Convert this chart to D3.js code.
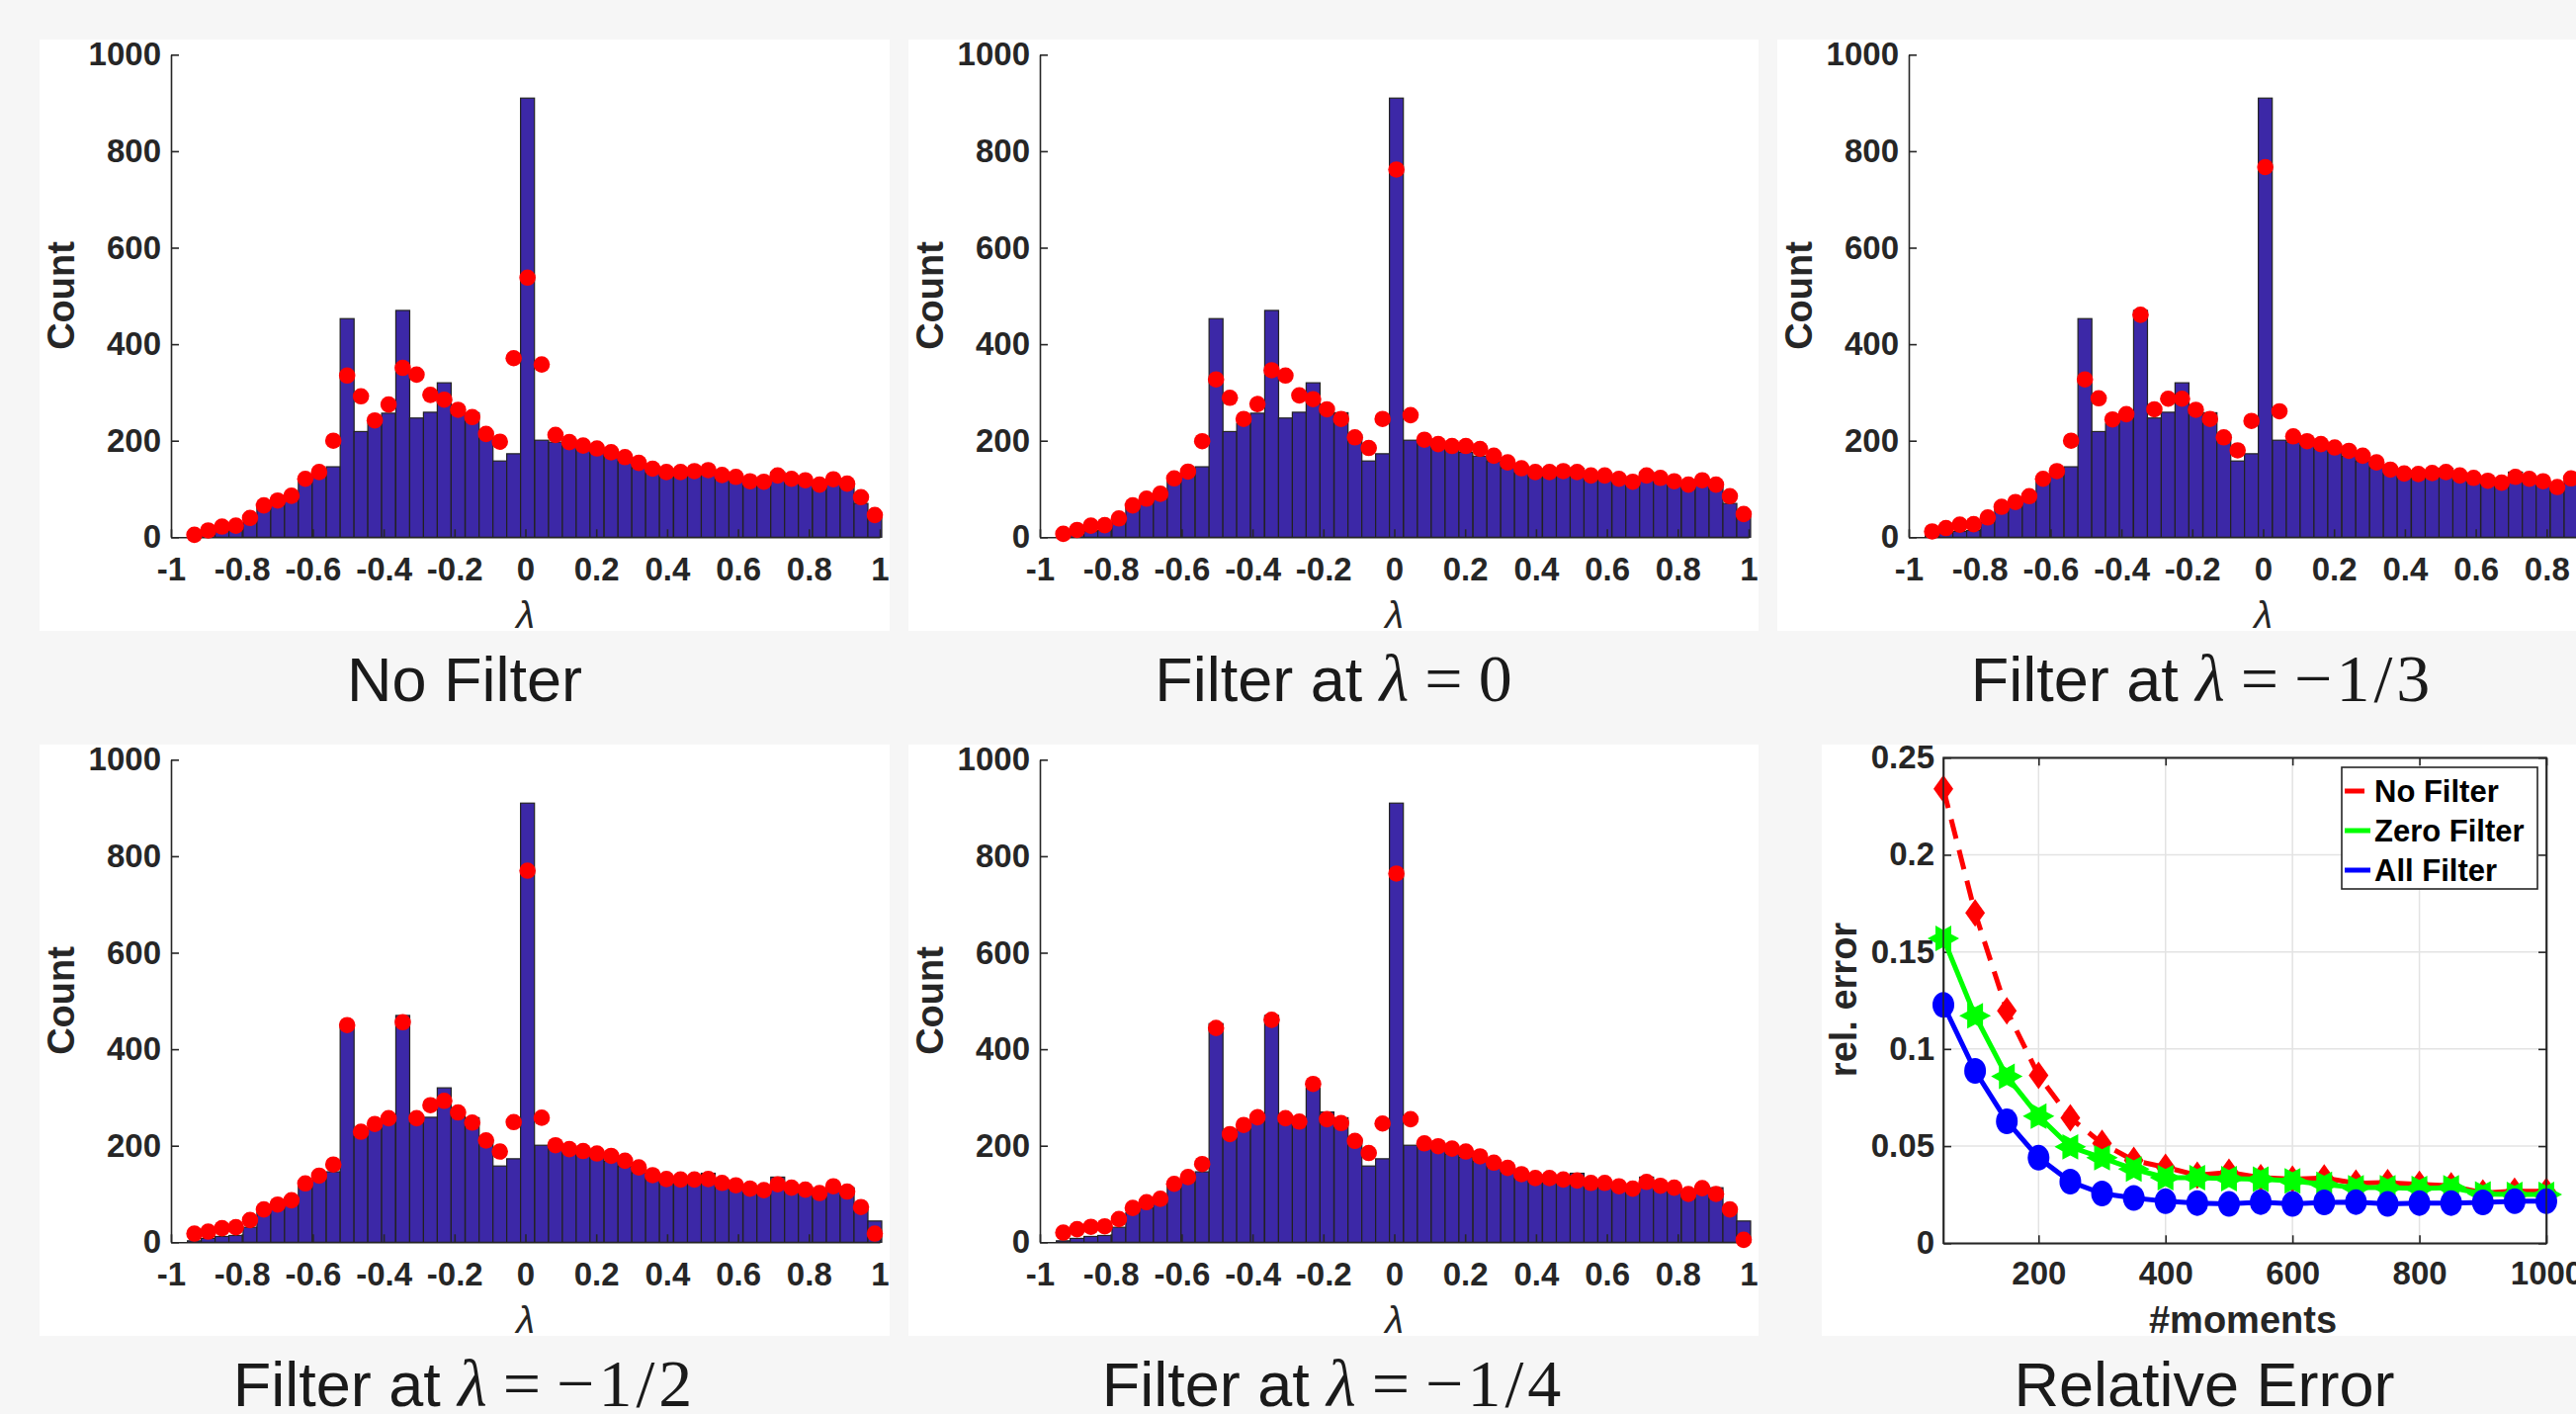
<!DOCTYPE html>
<html>
<head>
<meta charset="utf-8">
<script src="https://cdn.jsdelivr.net/npm/d3@7"></script>
<style>
  html, body { margin: 0; padding: 0; background: #f6f6f6; }
  svg { display: block; }
  text { font-family: "Liberation Sans", Arial, sans-serif; }
</style>
</head>
<body>
<svg id="chart" width="2606" height="1430"></svg>
<script>
// ---------------- DATA ----------------
const binWidth = 0.0392;
const binCenters = [-0.934, -0.895, -0.856, -0.817, -0.777, -0.738, -0.699, -0.660, -0.621, -0.582,
  -0.542, -0.503, -0.464, -0.425, -0.386, -0.346, -0.307, -0.268, -0.229, -0.190,
  -0.150, -0.111, -0.072, -0.033, 0.006, 0.046, 0.085, 0.124, 0.163, 0.202,
  0.242, 0.281, 0.320, 0.359, 0.398, 0.438, 0.477, 0.516, 0.555, 0.594,
  0.634, 0.673, 0.712, 0.751, 0.790, 0.830, 0.869, 0.908, 0.947, 0.986];
const histCounts = [3, 8, 12, 14, 31, 61, 71, 82, 117, 129,
  146, 453, 219, 236, 257, 470, 247, 259, 320, 270,
  258, 212, 158, 173, 910, 201, 197, 190, 183, 176,
  168, 157, 144, 133, 127, 128, 133, 143, 124, 119,
  112, 110, 135, 118, 114, 104, 116, 113, 70, 44];
const dotsNoFilter = [5, 14, 22, 24, 40, 66, 76, 86, 121, 135,
  200, 335, 292, 242, 275, 351, 337, 295, 285, 264,
  249, 214, 198, 371, 538, 358, 212, 197, 190, 184,
  176, 166, 154, 142, 135, 135, 137, 139, 129, 125,
  116, 115, 128, 121, 118, 109, 120, 111, 83, 46];
const dotsFilterZero = [7, 15, 24, 25, 39, 66, 80, 90, 122, 136,
  199, 327, 289, 245, 276, 346, 335, 294, 286, 265,
  245, 207, 185, 245, 762, 253, 202, 193, 189, 189,
  183, 169, 155, 143, 135, 135, 137, 135, 128, 128,
  121, 115, 128, 123, 116, 109, 118, 109, 85, 48];
const dotsFilterThird = [12, 19, 26, 27, 41, 63, 73, 85, 121, 137,
  200, 327, 288, 244, 255, 461, 265, 287, 287, 264,
  245, 207, 180, 241, 767, 261, 209, 199, 193, 186,
  179, 169, 155, 140, 132, 131, 133, 135, 128, 123,
  117, 113, 125, 121, 116, 104, 122, 110, 82, 45];
const dotsFilterHalf = [18, 22, 29, 31, 46, 68, 78, 87, 122, 138,
  161, 450, 229, 245, 257, 456, 257, 284, 293, 269,
  248, 211, 188, 249, 770, 258, 201, 193, 189, 184,
  179, 169, 155, 139, 131, 130, 130, 131, 123, 118,
  111, 108, 120, 113, 109, 102, 116, 105, 73, 18];
const dotsFilterQuarter = [20, 27, 32, 33, 48, 71, 83, 90, 121, 135,
  162, 444, 224, 243, 259, 461, 257, 250, 328, 255,
  247, 210, 185, 246, 764, 255, 205, 199, 194, 188,
  178, 165, 154, 141, 133, 133, 130, 128, 123, 123,
  116, 111, 125, 117, 113, 100, 112, 100, 68, 5];

const histXTicks = [-1, -0.8, -0.6, -0.4, -0.2, 0, 0.2, 0.4, 0.6, 0.8, 1];
const histXTickLabels = ["-1", "-0.8", "-0.6", "-0.4", "-0.2", "0", "0.2", "0.4", "0.6", "0.8", "1"];
const histYTicks = [0, 200, 400, 600, 800, 1000];

const moments = [50, 100, 150, 200, 250, 300, 350, 400, 450, 500,
  550, 600, 650, 700, 750, 800, 850, 900, 950, 1000];
const relErrNoFilter = [0.2340, 0.1701, 0.1197, 0.0864, 0.0645, 0.0514, 0.0426, 0.0391, 0.0350, 0.0365,
  0.0338, 0.0330, 0.0336, 0.0309, 0.0312, 0.0303, 0.0295, 0.0259, 0.0268, 0.0268];
const relErrZeroFilter = [0.1569, 0.1171, 0.0859, 0.0654, 0.0496, 0.0440, 0.0382, 0.0338, 0.0338, 0.0333,
  0.0330, 0.0321, 0.0303, 0.0286, 0.0286, 0.0282, 0.0286, 0.0254, 0.0251, 0.0251];
const relErrAllFilter = [0.1227, 0.0887, 0.0628, 0.0440, 0.0317, 0.0256, 0.0233, 0.0216, 0.0207, 0.0202,
  0.0212, 0.0202, 0.0210, 0.0212, 0.0202, 0.0207, 0.0207, 0.0210, 0.0216, 0.0216];
const errXTicks = [200, 400, 600, 800, 1000];
const errYTicks = [0, 0.05, 0.1, 0.15, 0.2, 0.25];
const errYTickLabels = ["0", "0.05", "0.1", "0.15", "0.2", "0.25"];
const legendLabels = ["No Filter", "Zero Filter", "All Filter"];

// ---------------- DRAWING ----------------
const svg = d3.select("#chart");
const AX = "#262626";
const SERIF = "'Liberation Serif', 'DejaVu Serif', serif";
svg.append("rect").attr("width", 2606).attr("height", 1430).attr("fill", "#f6f6f6");

const panels = [
  {dx: 0,    dy: 0,   dots: dotsNoFilter,     title: null,   plain: "No Filter"},
  {dx: 879,  dy: 0,   dots: dotsFilterZero,   title: "0"},
  {dx: 1758, dy: 0,   dots: dotsFilterThird,  title: "\u22121/3"},
  {dx: 0,    dy: 713, dots: dotsFilterHalf,   title: "\u22121/2"},
  {dx: 879,  dy: 713, dots: dotsFilterQuarter,title: "\u22121/4"}
];

function styleAxis(g, size) {
  g.selectAll("path.domain").attr("stroke", AX).attr("stroke-width", 1.6);
  g.selectAll(".tick line").attr("stroke", AX).attr("stroke-width", 1.6);
  g.selectAll(".tick text").attr("fill", AX).attr("font-size", size).attr("font-weight", "bold")
    .attr("font-family", "'Liberation Sans', Arial, sans-serif");
}

function drawTitle(cx, by, p) {
  const t = svg.append("text").attr("x", cx).attr("y", by).attr("text-anchor", "middle")
    .attr("fill", "#1a1a1a").attr("font-size", 63);
  if (p.plain) { t.text(p.plain); return; }
  t.append("tspan").text("Filter at ");
  t.append("tspan").attr("font-family", SERIF).attr("font-style", "italic").attr("font-size", 68)
    .text("\u03bb");
  t.append("tspan").attr("font-family", SERIF).attr("font-size", 68).attr("dx", 16).text("=");
  t.append("tspan").attr("font-family", SERIF).attr("font-size", 68).attr("dx", 16)
    .attr("letter-spacing", p.title.length > 1 ? 4 : 0).text(p.title);
}

panels.forEach(p => {
  const g = svg.append("g");
  g.append("rect").attr("x", 40 + p.dx).attr("y", 40 + p.dy).attr("width", 860).attr("height", 598)
    .attr("fill", "#ffffff");
  const x = d3.scaleLinear().domain([-1, 1]).range([173 + p.dx, 890 + p.dx]);
  const y = d3.scaleLinear().domain([0, 1000]).range([543.3 + p.dy, 55.3 + p.dy]);

  g.selectAll("rect.bar").data(histCounts).join("rect").attr("class", "bar")
    .attr("x", (d, i) => x(binCenters[i] - binWidth / 2))
    .attr("width", (d, i) => x(binCenters[i] + binWidth / 2) - x(binCenters[i] - binWidth / 2))
    .attr("y", d => y(d))
    .attr("height", d => y(0) - y(d))
    .attr("fill", "#3c28a7").attr("stroke", "#222222").attr("stroke-width", 1.2);

  const gy = g.append("g").attr("transform", `translate(${173 + p.dx},0)`)
    .call(d3.axisLeft(y).tickValues(histYTicks).tickFormat(d3.format("d")).tickSizeInner(-8).tickSizeOuter(0).tickPadding(10));
  styleAxis(gy, 33);
  const gx = g.append("g").attr("transform", `translate(0,${543.3 + p.dy})`)
    .call(d3.axisBottom(x).tickValues(histXTicks).tickFormat((d, i) => histXTickLabels[i]).tickSizeInner(-8).tickSizeOuter(0).tickPadding(20));
  styleAxis(gx, 33);

  g.selectAll("circle.dot").data(p.dots).join("circle").attr("class", "dot")
    .attr("cx", (d, i) => x(binCenters[i])).attr("cy", d => y(d)).attr("r", 8.3)
    .attr("fill", "#ff0000");

  g.append("text").attr("transform", `translate(${75 + p.dx},${299 + p.dy}) rotate(-90)`)
    .attr("text-anchor", "middle").attr("font-size", 38).attr("font-weight", "bold").attr("fill", AX)
    .text("Count");
  g.append("text").attr("x", 531.5 + p.dx).attr("y", 635 + p.dy).attr("text-anchor", "middle")
    .attr("font-family", SERIF).attr("font-style", "italic")
    .attr("font-size", 38).attr("fill", AX).text("\u03bb");

  drawTitle(470 + p.dx, 709 + p.dy, p);
});

// ---------------- RELATIVE ERROR PANEL ----------------
(function () {
  const g = svg.append("g");
  g.append("rect").attr("x", 1843).attr("y", 753).attr("width", 800).attr("height", 598).attr("fill", "#ffffff");
  const x = d3.scaleLinear().domain([50, 1000]).range([1966, 2576]);
  const y = d3.scaleLinear().domain([0, 0.25]).range([1257.3, 766.2]);
  const L = 1966, R = 2576, T = 766.2, B = 1257.3;

  // grid
  g.selectAll("line.gx").data(errXTicks).join("line")
    .attr("x1", d => x(d)).attr("x2", d => x(d)).attr("y1", T).attr("y2", B)
    .attr("stroke", "#e3e3e3").attr("stroke-width", 1.5);
  g.selectAll("line.gy").data(errYTicks).join("line")
    .attr("x1", L).attr("x2", R).attr("y1", d => y(d)).attr("y2", d => y(d))
    .attr("stroke", "#e3e3e3").attr("stroke-width", 1.5);

  // axes
  const gyl = g.append("g").attr("transform", `translate(${L},0)`)
    .call(d3.axisLeft(y).tickValues(errYTicks).tickFormat((d, i) => errYTickLabels[i]).tickSizeInner(-8).tickSizeOuter(0).tickPadding(9));
  styleAxis(gyl, 33);
  const gyr = g.append("g").attr("transform", `translate(${R},0)`)
    .call(d3.axisRight(y).tickValues(errYTicks).tickFormat("").tickSizeInner(-8).tickSizeOuter(0));
  styleAxis(gyr, 33);
  const gxb = g.append("g").attr("transform", `translate(0,${B})`)
    .call(d3.axisBottom(x).tickValues(errXTicks).tickFormat(d3.format("d")).tickSizeInner(-8).tickSizeOuter(0).tickPadding(18));
  styleAxis(gxb, 33);
  const gxt = g.append("g").attr("transform", `translate(0,${T})`)
    .call(d3.axisTop(x).tickValues(errXTicks).tickFormat("").tickSizeInner(-8).tickSizeOuter(0));
  styleAxis(gxt, 33);

  const line = d3.line().x((d, i) => x(moments[i])).y(d => y(d));

  // No Filter: red dashed + diamonds
  g.append("path").datum(relErrNoFilter).attr("d", line).attr("fill", "none")
    .attr("stroke", "#ff0000").attr("stroke-width", 5).attr("stroke-dasharray", "20,12");
  g.selectAll("path.dia").data(relErrNoFilter).join("path")
    .attr("d", (d, i) => {
      const cx = x(moments[i]), cy = y(d);
      return `M${cx},${cy - 14}L${cx + 10},${cy}L${cx},${cy + 14}L${cx - 10},${cy}Z`;
    }).attr("fill", "#ff0000");

  // Zero Filter: green + hexagrams
  g.append("path").datum(relErrZeroFilter).attr("d", line).attr("fill", "none")
    .attr("stroke", "#00ff00").attr("stroke-width", 5);
  function hexagram(cx, cy, rx, ry) {
    const pts = [];
    for (let k = 0; k < 12; k++) {
      const a = k * Math.PI / 6;
      const f = (k % 2 === 0) ? 1 : 1 / Math.sqrt(3);
      pts.push([cx + rx * f * Math.cos(a), cy + ry * f * Math.sin(a)]);
    }
    return "M" + pts.map(p => p.join(",")).join("L") + "Z";
  }
  g.selectAll("path.hex").data(relErrZeroFilter).join("path")
    .attr("d", (d, i) => hexagram(x(moments[i]), y(d), 16, 15)).attr("fill", "#00ff00");

  // All Filter: blue + circles
  g.append("path").datum(relErrAllFilter).attr("d", line).attr("fill", "none")
    .attr("stroke", "#0000ff").attr("stroke-width", 5);
  g.selectAll("ellipse.cir").data(relErrAllFilter).join("ellipse")
    .attr("cx", (d, i) => x(moments[i])).attr("cy", d => y(d)).attr("rx", 11).attr("ry", 13)
    .attr("fill", "#0000ff");

  // box
  g.append("rect").attr("x", L).attr("y", T).attr("width", R - L).attr("height", B - T)
    .attr("fill", "none").attr("stroke", AX).attr("stroke-width", 1.6);

  // legend
  const lg = g.append("g");
  lg.append("rect").attr("x", 2369).attr("y", 776).attr("width", 198).attr("height", 123)
    .attr("fill", "#ffffff").attr("stroke", AX).attr("stroke-width", 1.6);
  const legColors = ["#ff0000", "#00ff00", "#0000ff"];
  legendLabels.forEach((lab, i) => {
    const cy = 800 + i * 40;
    lg.append("line").attr("x1", 2372).attr("x2", 2398).attr("y1", cy).attr("y2", cy)
      .attr("stroke", legColors[i]).attr("stroke-width", 5)
      .attr("stroke-dasharray", i === 0 ? "20,12" : null);
    lg.append("text").attr("x", 2402).attr("y", cy + 11).attr("font-size", 31).attr("font-weight", "bold")
      .attr("fill", "#000000").text(lab);
  });

  g.append("text").attr("transform", `translate(1878,1011) rotate(-90)`)
    .attr("text-anchor", "middle").attr("font-size", 38).attr("font-weight", "bold").attr("fill", AX)
    .text("rel. error");
  g.append("text").attr("x", 2269).attr("y", 1348).attr("text-anchor", "middle")
    .attr("font-size", 38).attr("font-weight", "bold").attr("fill", AX).text("#moments");
  g.append("text").attr("x", 2230).attr("y", 1422).attr("text-anchor", "middle")
    .attr("font-size", 63).attr("fill", "#1a1a1a").text("Relative Error");
})();
</script>
</body>
</html>
